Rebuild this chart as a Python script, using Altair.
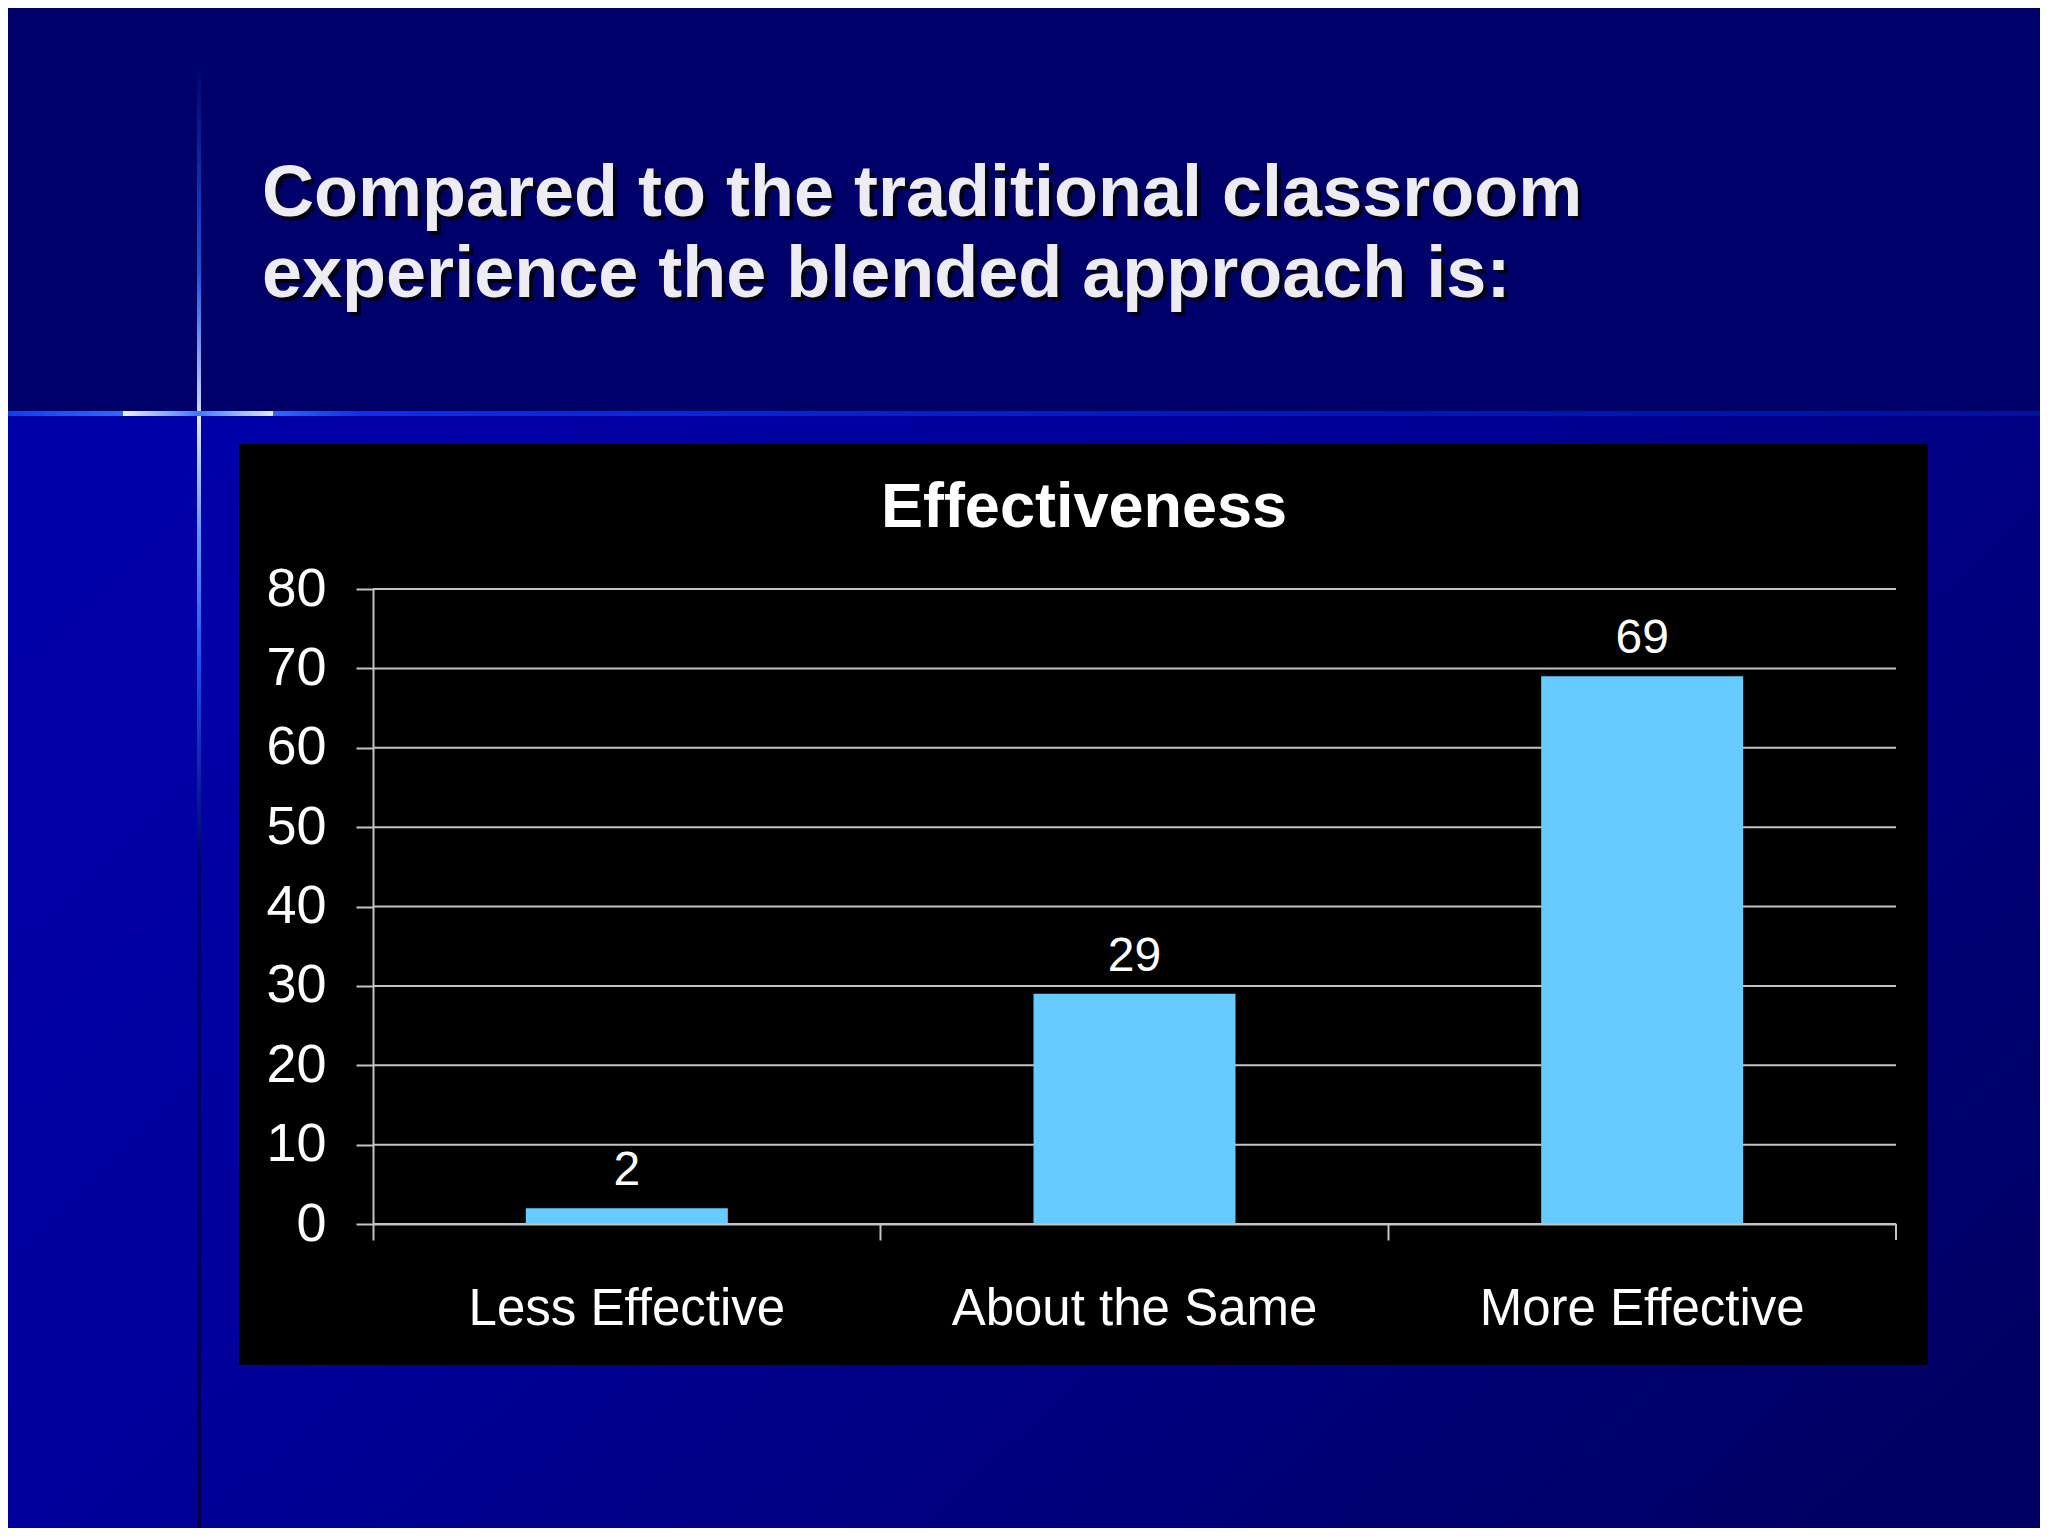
import altair as alt
import pandas as pd

# ---- data ----
categories = ["Less Effective", "About the Same", "More Effective"]
values = [2, 29, 69]
y_ticks = [0, 10, 20, 30, 40, 50, 60, 70, 80]
slide_title = ["Compared to the traditional classroom", "experience the blended approach is:"]
chart_title = "Effectiveness"

# ---- layout (slide pixel coordinates) ----
W, H = 1523, 635          # plot area
OX, OY = 373, 589         # plot origin on the slide
FONT = "Liberation Sans"
AXC = "#c4c4c4"


def sx(X):
    return X - OX


def sy(Y):
    return Y - OY


one = pd.DataFrame({"k": [0]})
df = pd.DataFrame({"category": categories, "value": values})
grid_df = pd.DataFrame({"value": y_ticks})


def grad(stops, x1=0, y1=0, x2=1, y2=0):
    return alt.LinearGradient(
        gradient="linear",
        stops=[alt.GradientStop(color=c, offset=o) for o, c in stops],
        x1=x1, y1=y1, x2=x2, y2=y2,
    )


def box(x0, x1, y0, y1, color):
    return alt.Chart(one).mark_rect(color=color).encode(
        x=alt.value(sx(x0)), x2=alt.value(sx(x1)),
        y=alt.value(sy(y0)), y2=alt.value(sy(y1)),
    )


def txt(s, X, Y, size, bold, color, align="left", dx=0, dy=0):
    return alt.Chart(one).mark_text(
        text=s, font=FONT, fontSize=size,
        fontWeight="bold" if bold else "normal",
        color=color, align=align, baseline="alphabetic", dx=dx, dy=dy,
    ).encode(x=alt.value(sx(X)), y=alt.value(sy(Y)))


# ---- slide decoration ----
bg_top = box(0, 2048, 0, 413, "#00006a")
bg_bot = box(0, 2048, 413, 1536,
             grad([(0, "#0000a8"), (0.35, "#00009c"), (1, "#000064")], 0, 0.2, 1, 0.8))
hline = box(0, 2048, 411, 416,
            grad([(0, "#1a50ff"), (0.2, "#0a2ee6"), (0.6, "#0018c0"), (1, "#0010a8")]))
hseg1 = box(0, 123, 411, 416, grad([(0, "#0a3cf0"), (1, "#2a6aff")]))
hseg2 = box(123, 273, 411, 416,
            grad([(0, "#f0f0f0"), (0.5, "#3a78ff"), (1, "#e4eaf8")]))
hseg3 = box(273, 363, 411, 416, grad([(0, "#2a6aff"), (1, "#0a30e8")]))
vup = box(197, 201, 60, 411,
          grad([(0, "#00006a"), (0.6, "#1a50e0"), (1, "#c8d8ff")], 0, 0, 0, 1))
vdown = box(197, 201, 416, 1536,
            grad([(0, "#e0e8ff"), (0.1, "#6a98ff"), (0.22, "#1a50f0"),
                  (0.4, "#000070"), (1, "#00003c")], 0, 0, 0, 1))
panel = box(239, 1928, 444, 1365, "#000000")

# ---- texts ----
t1s = txt(slide_title[0], 262, 216, 72, True, "#000018", dx=4, dy=4)
t1 = txt(slide_title[0], 262, 216, 72, True, "#ececf2")
t2s = txt(slide_title[1], 262, 297, 72, True, "#000018", dx=4, dy=4)
t2 = txt(slide_title[1], 262, 297, 72, True, "#ececf2")
ct = txt(chart_title, 1084, 527, 63, True, "#ffffff", align="center")

# ---- chart ----
yscale = alt.Scale(domain=[0, 80], nice=False)
y_axis = alt.Axis(
    title=None, values=y_ticks, grid=False,
    domainColor=AXC, domainWidth=2,
    tickSize=17, tickColor=AXC, tickWidth=2,
    labelFont=FONT, labelFontSize=54, labelColor="#ffffff",
    labelPadding=30, zindex=1,
)
xenc = alt.X(
    "category:N", sort=categories,
    scale=alt.Scale(paddingInner=0, paddingOuter=0),
    axis=alt.Axis(
        title=None, labelAngle=0, bandPosition=0, grid=False,
        ticks=True, tickSize=16, tickColor=AXC, tickWidth=2,
        domainColor=AXC, domainWidth=2,
        labelFont=FONT, labelFontSize=51, labelColor="#ffffff",
        labelPadding=84, labelBaseline="alphabetic", labelLimit=0,
        zindex=1,
    ),
)

gridlines = alt.Chart(grid_df).mark_rule(color=AXC, strokeWidth=2).encode(
    y=alt.Y("value:Q", scale=yscale, axis=y_axis)
)

bars = alt.Chart(df).mark_bar(size=202, color="#66ccff").encode(
    x=xenc,
    y=alt.Y("value:Q", scale=yscale, axis=y_axis),
)

bar_labels = alt.Chart(df).mark_text(
    font=FONT, fontSize=48, color="#ffffff", baseline="alphabetic", dy=-23
).encode(
    x=alt.X("category:N", sort=categories),
    y=alt.Y("value:Q", scale=yscale, axis=y_axis),
    text="value:Q",
)

end_tick = alt.Chart(one).mark_rule(color=AXC, strokeWidth=2).encode(
    x=alt.value(W), y=alt.value(H), y2=alt.value(H + 16)
)

chart = alt.layer(
    bg_top, bg_bot, hline, hseg1, hseg2, hseg3, vup, vdown, panel,
    t1s, t1, t2s, t2, ct,
    gridlines, bars, bar_labels, end_tick,
).properties(
    width=W, height=H,
    padding={"left": OX - 8, "top": OY - 8, "right": 2032 - (OX - 8) - W,
             "bottom": 1520 - (OY - 8) - H},
    autosize=alt.AutoSizeParams(type="none"),
).configure(
    background="#00006a"
).configure_view(stroke=None)

chart.save("out.html", embed_options={"renderer": "svg", "actions": False})
